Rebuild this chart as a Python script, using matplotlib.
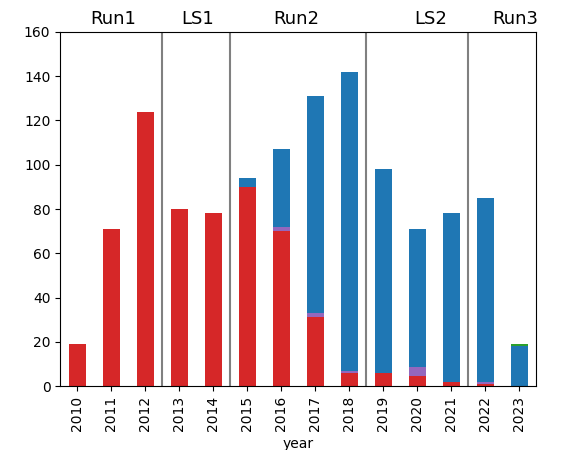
import numpy as np
import pandas as pd
import matplotlib
matplotlib.use("Agg")
import matplotlib.pyplot as plt

years = [2010, 2011, 2012, 2013, 2014, 2015, 2016, 2017, 2018, 2019, 2020, 2021, 2022, 2023]
red = [19, 71, 124, 80, 78, 90, 70, 31, 6, 6, 4.5, 2, 1, 0]
purple = [0, 0, 0, 0, 0, 0, 2, 2, 1, 0, 4, 0, 1, 0]
blue = [0, 0, 0, 0, 0, 4, 35, 98, 135, 92, 62.5, 76, 83, 18.2]
green = [0, 0, 0, 0, 0, 0, 0, 0, 0, 0, 0, 0, 0, 0.8]

period_names = ["Run1", "LS1", "Run2", "LS2", "Run3"]
period_pos = [1.05, 3.55, 6.45, 10.4, 12.9]
boundaries = [2.5, 4.5, 8.5, 11.5]

df = pd.DataFrame({"red": red, "purple": purple, "blue": blue, "green": green},
                  index=pd.Index(years, name="year"))

fig = plt.figure(figsize=(5.62, 4.5), dpi=100)
ax = fig.add_axes([0.107, 0.142, 0.847, 0.787])
df.plot.bar(stacked=True, ax=ax, legend=False,
            color=["tab:red", "tab:purple", "tab:blue", "tab:green"])

for b in boundaries:
    ax.axvline(b, color="gray", linewidth=1.5)

ax.set_ylim(0, 160)
ax.set_xlim(-0.5, len(years) - 0.5)
for name, p in zip(period_names, period_pos):
    ax.text(p, 162, name, ha="center", va="bottom", fontsize=13)

fig.savefig("out.png")
